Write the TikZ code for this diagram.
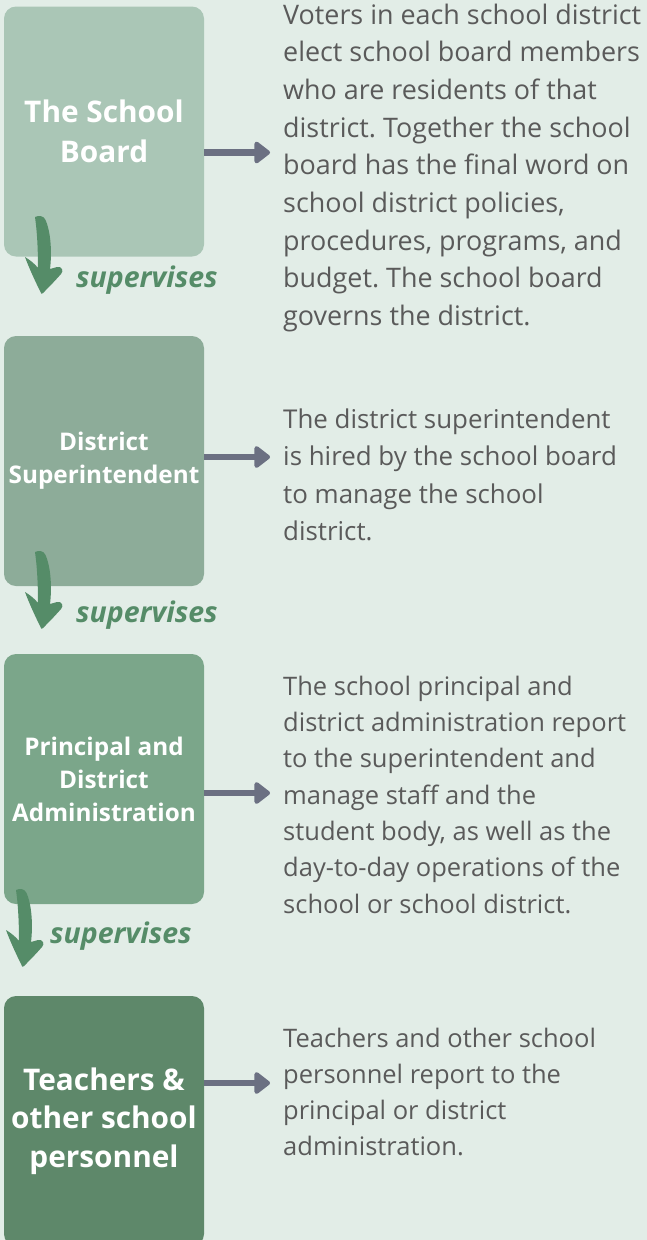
\documentclass[tikz,border=0pt]{standalone}
\usepackage{fontspec}
\setmainfont{Open Sans}
\usetikzlibrary{arrows.meta}
\frenchspacing
\definecolor{bg}{HTML}{E2EDE7}
\definecolor{boxA}{HTML}{AAC6B6}
\definecolor{boxB}{HTML}{8DAC99}
\definecolor{boxC}{HTML}{7BA68A}
\definecolor{boxD}{HTML}{5E886A}
\definecolor{supgreen}{HTML}{558C68}
\definecolor{arrowgray}{HTML}{6B7082}
\definecolor{bodytext}{HTML}{5A5A5A}
\tikzset{
  box/.style={rectangle, rounded corners=12pt, minimum width=200pt, minimum height=250pt,
    inner sep=0pt, text=white, align=center},
  bigfont/.style={font=\fontsize{29.8}{40}\selectfont\bfseries},
  smallfont/.style={font=\fontsize{24.3}{33}\selectfont\bfseries},
  para/.style={anchor=base west, inner sep=0pt, align=left, text=bodytext},
  conn/.style={draw=arrowgray, line width=6.7pt, -{Triangle[length=17pt,width=25pt,round]}},
  suplabel/.style={anchor=base west, inner sep=0pt, text=supgreen,
    font=\fontsize{28.5}{32}\selectfont\bfseries\itshape},
  superv/.pic={
    \fill[supgreen] (-7,-76) .. controls (-3,-78) and (1,-77) .. (3,-74)
      .. controls (9,-62) and (10,-40) .. (8,-24)
      -- (15,-26) .. controls (20,-27) and (22,-22) .. (19,-19)
      .. controls (12,-11) and (5,-4) .. (1,0)
      .. controls (0,1) and (-1,1) .. (-1,0)
      .. controls (-6,-10) and (-13,-25) .. (-17,-36)
      .. controls (-12,-33) and (-7,-29) .. (-4,-25)
      .. controls (-4,-45) and (-5,-62) .. (-7,-76) -- cycle;
  }
}
\begin{document}
\begin{tikzpicture}[x=1pt,y=-1pt]
\fill[bg] (0,0) rectangle (647,1240);
\useasboundingbox (0,0) rectangle (647,1240);

% boxes
\node[box, bigfont, fill=boxA] (b1) at (104,131.5) {The School\\Board};
\node[box, smallfont, fill=boxB] (b2) at (104,461) {District\\Superintendent};
\node[box, smallfont, fill=boxC] (b3) at (104,779) {Principal and\\District\\Administration};
\node[box, font=\fontsize{29.8}{38.5}\selectfont\bfseries, fill=boxD] (b4) at (104,1121) {Teachers \&\\other school\\personnel};

% arrow tips
\coordinate (t1) at (270,152.5);
\coordinate (t2) at (270,457);
\coordinate (t3) at (270,793);
\coordinate (t4) at (270,1083);
\draw[conn] (b1.east |- t1) -- (t1);
\draw[conn] (b2.east |- t2) -- (t2);
\draw[conn] (b3.east |- t3) -- (t3);
\draw[conn] (b4.east |- t4) -- (t4);

% supervises arrows
\pic (s1) at (42,293) {superv};
\pic (s2) at (42,628) {superv};
\pic (s3) at (23,966) {superv};
\node[suplabel] (l1) at (76,287) {supervises};
\node[suplabel] (l2) at (76,622) {supervises};
\node[suplabel] (l3) at (50,943) {supervises};

% paragraphs (anchored at the baseline of their last line)
\node[para, font=\fontsize{26.9}{37.7}\selectfont] (p1) at (283,325.6) {Voters in each school district\\elect school board members\\who are residents of that\\district. Together the school\\board has the final word on\\school district policies,\\procedures, programs, and\\budget. The school board\\governs the district.};
\node[para, font=\fontsize{25.9}{37.5}\selectfont] (p2) at (283,540.5) {The district superintendent\\is hired by the school board\\to manage the school\\district.};
\node[para, font=\fontsize{25.5}{36.3}\selectfont] (p3) at (283,913) {The school principal and\\district administration report\\to the superintendent and\\manage staff and the\\student body, as well as the\\day-to-day operations of the\\school or school district.};
\node[para, font=\fontsize{25.5}{36.2}\selectfont] (p4) at (283,1155.6) {Teachers and other school\\personnel report to the\\principal or district\\administration.};
\end{tikzpicture}
\end{document}
